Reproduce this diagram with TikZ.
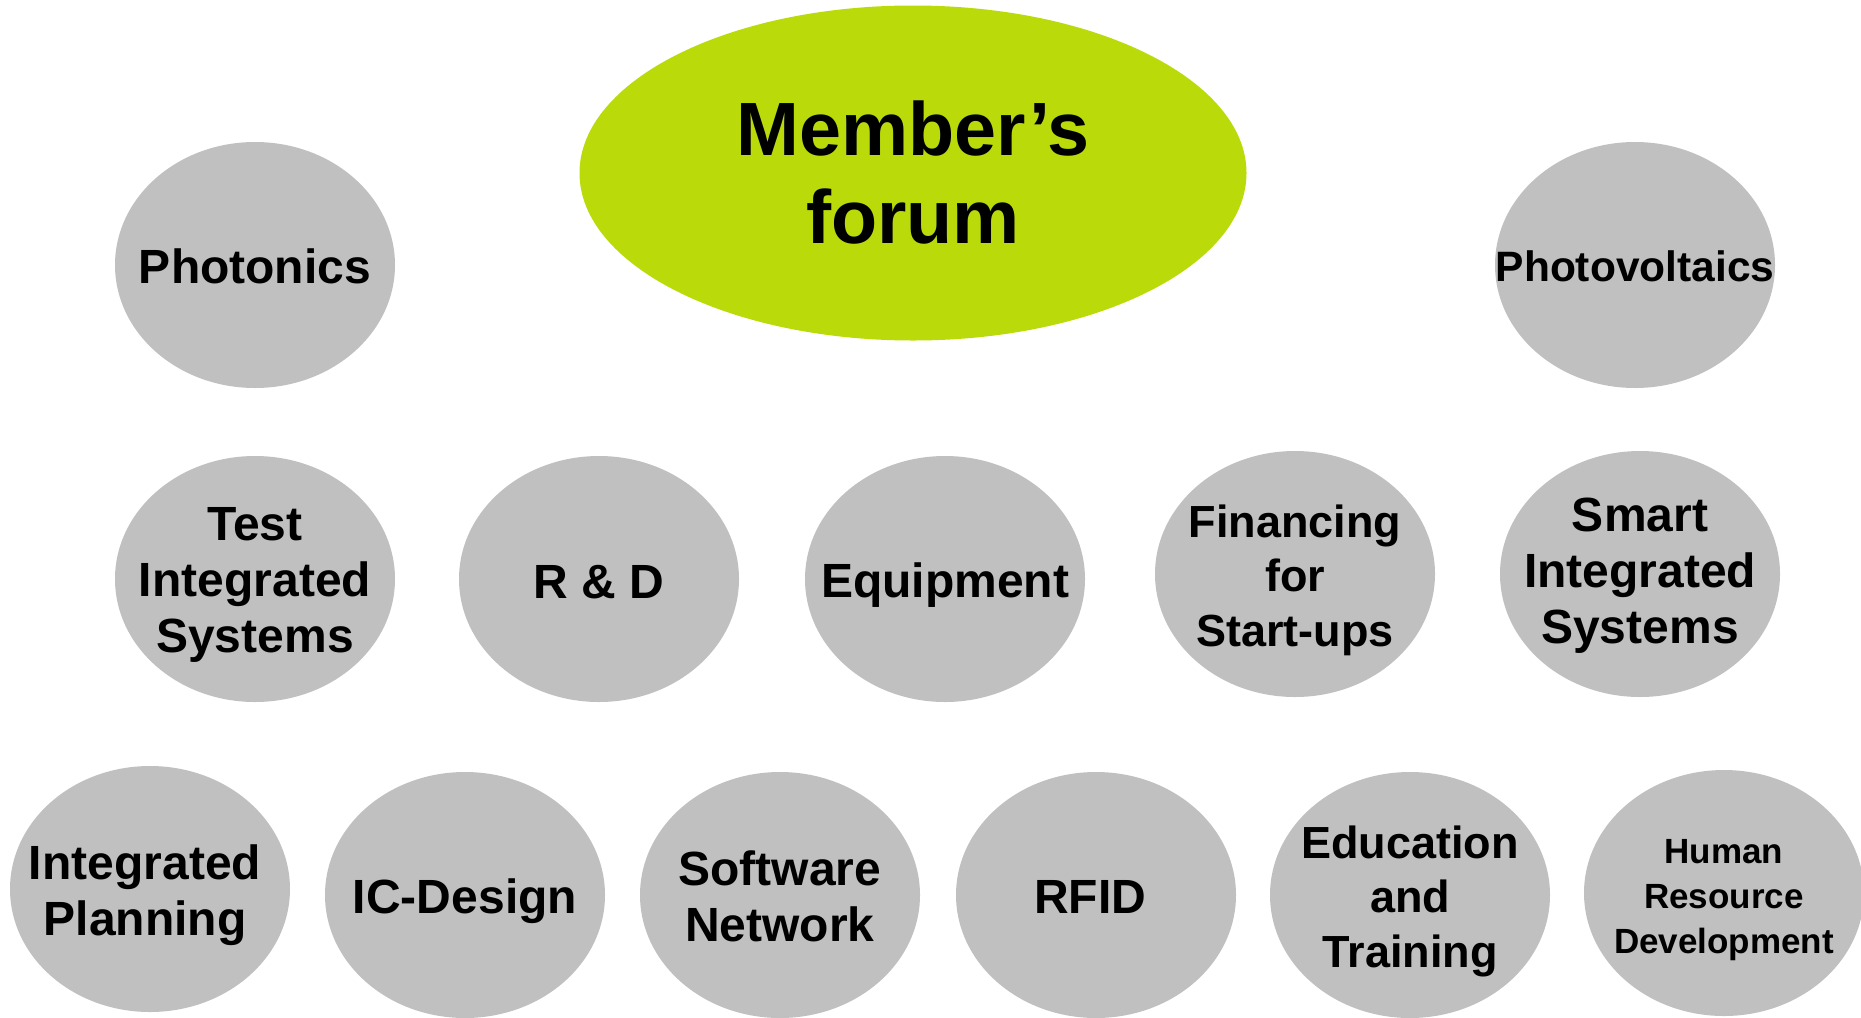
\documentclass[tikz,border=0pt]{standalone}
\usepackage{fontspec}
\setmainfont{Liberation Sans}
\usetikzlibrary{shapes.geometric}
\definecolor{blobgray}{RGB}{192,192,192}
\definecolor{forumgreen}{RGB}{187,218,10}
\tikzset{
  blob/.style={ellipse, fill=blobgray, draw=none, inner sep=0pt, minimum width=280bp, minimum height=246bp},
  forum/.style={ellipse, fill=forumgreen, draw=none, inner sep=0pt, minimum width=667bp, minimum height=335bp},
  lbl/.style={align=center, inner sep=0pt, font=\bfseries\fontsize{48bp}{56bp}\selectfont},
  lblsm/.style={align=center, inner sep=0pt, font=\bfseries\fontsize{45bp}{54.5bp}\selectfont},
}
\begin{document}
\begin{tikzpicture}[x=1bp,y=-1bp]
\useasboundingbox (0,0) rectangle (1861,1017);
\clip (0,0) rectangle (1861,1017);
% ellipses
\node[forum] (forumE) at (913,173) {};
\node[blob] (photonicsE) at (255,265) {};
\node[blob] (photovoltE) at (1635,265) {};
\node[blob] (testE) at (255,579) {};
\node[blob] (rdE) at (599,579) {};
\node[blob] (equipE) at (945,579) {};
\node[blob] (finE) at (1295,574) {};
\node[blob] (smartE) at (1640,574) {};
\node[blob] (planE) at (150,889) {};
\node[blob] (icE) at (465,895) {};
\node[blob] (softE) at (780,895) {};
\node[blob] (rfidE) at (1096,895) {};
\node[blob] (eduE) at (1410,895) {};
\node[blob] (hrE) at (1724,893) {};
% labels
\node[align=center, inner sep=0pt, font=\bfseries\fontsize{75.5bp}{88bp}\selectfont] (forumT) at (forumE) {Member’s\\forum};
\node[lbl, yshift=-1bp] (photonicsT) at (photonicsE) {Photonics};
\node[align=center, inner sep=0pt, font=\bfseries\fontsize{42.5bp}{50bp}\selectfont, yshift=-1bp] (photovoltT) at (photovoltE) {Photovoltaics};
\node[lbl, yshift=-6bp] (testT) at (testE) {Test\\Integrated\\Systems};
\node[lbl, yshift=-3bp] (rdT) at (rdE) {R \& D};
\node[lbl, yshift=-6bp] (equipT) at (equipE) {Equipment};
\node[lblsm, yshift=-6bp] (finT) at (finE) {Financing\\for\\Start-ups};
\node[lbl, yshift=-2bp] (smartT) at (smartE) {Smart\\Integrated\\Systems};
\node[lbl, yshift=-6bp, xshift=-5bp] (planT) at (planE) {Integrated\\Planning};
\node[lbl, yshift=-6bp] (icT) at (icE) {IC-Design};
\node[lbl, yshift=-1bp] (softT) at (softE) {Software\\Network};
\node[lbl, yshift=-2bp, xshift=-6bp] (rfidT) at (rfidE) {RFID};
\node[lblsm, yshift=-6bp] (eduT) at (eduE) {Education\\and\\Training};
\node[align=center, inner sep=0pt, font=\bfseries\fontsize{35bp}{45bp}\selectfont, yshift=-7bp] (hrT) at (hrE) {Human\\Resource\\Development};
\end{tikzpicture}
\end{document}
